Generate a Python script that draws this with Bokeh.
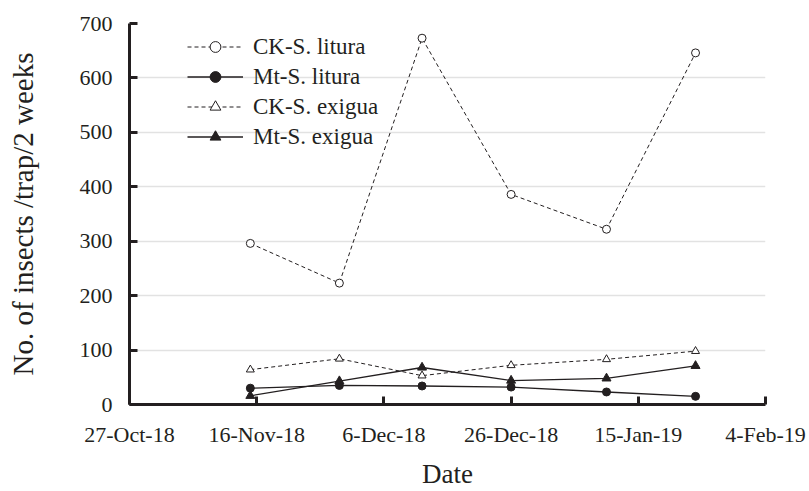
from datetime import datetime
from bokeh.plotting import figure
from bokeh.models import FixedTicker, Legend, LegendItem, Range1d
from bokeh.embed import file_html
from bokeh.resources import INLINE

# ---- data ----
dates = ["2018-11-15", "2018-11-29", "2018-12-12", "2018-12-26", "2019-01-10", "2019-01-24"]
ck_litura = [296, 223, 673, 386, 322, 646]
mt_litura = [30, 35, 34, 32, 23, 15]
ck_exigua = [64, 84, 53, 72, 83, 98]
mt_exigua = [16, 43, 68, 44, 48, 71]
tick_dates = ["2018-10-27", "2018-11-16", "2018-12-06", "2018-12-26", "2019-01-15", "2019-02-04"]
tick_labels = ["27-Oct-18", "16-Nov-18", "6-Dec-18", "26-Dec-18", "15-Jan-19", "4-Feb-19"]
y_ticks = [0, 100, 200, 300, 400, 500, 600, 700]

x = [datetime.strptime(d, "%Y-%m-%d") for d in dates]
tick_dt = [datetime.strptime(d, "%Y-%m-%d") for d in tick_dates]
epoch = datetime(1970, 1, 1)
tick_ms = [int((d - epoch).total_seconds() * 1000) for d in tick_dt]

FONT = "Liberation Serif"
TXT = "#231f20"

p = figure(width=809, height=491, x_axis_type="datetime", output_backend="svg",
           toolbar_location=None, min_border_left=129, min_border_right=44,
           min_border_top=23, min_border_bottom=86)
p.x_range = Range1d(tick_dt[0], tick_dt[-1])
p.y_range = Range1d(0, 700)
p.outline_line_color = None
p.background_fill_color = "white"

# lines + markers
r1l = p.line(x, ck_litura, line_color=TXT, line_width=1, line_dash="4 3")
r1m = p.scatter(x, ck_litura, marker="circle", size=8, fill_color="white", line_color=TXT, line_width=1)
r2l = p.line(x, mt_litura, line_color=TXT, line_width=1.3)
r2m = p.scatter(x, mt_litura, marker="circle", size=8, fill_color=TXT, line_color=TXT)
r3l = p.line(x, ck_exigua, line_color=TXT, line_width=1, line_dash="4 3")
r3m = p.scatter(x, ck_exigua, marker="triangle", size=8, fill_color="white", line_color=TXT, line_width=1)
r4l = p.line(x, mt_exigua, line_color=TXT, line_width=1.3)
r4m = p.scatter(x, mt_exigua, marker="triangle", size=9, fill_color=TXT, line_color=TXT)

# axes
p.xaxis.ticker = FixedTicker(ticks=tick_ms)
p.xaxis.major_label_overrides = {t: l for t, l in zip(tick_ms, tick_labels)}
p.yaxis.ticker = FixedTicker(ticks=y_ticks)
for ax in (p.xaxis[0], p.yaxis[0]):
    ax.axis_line_color = TXT
    ax.axis_line_width = 3
    ax.major_tick_line_color = TXT
    ax.major_tick_line_width = 3
    ax.major_tick_in = 8
    ax.major_tick_out = 0
    ax.minor_tick_line_color = None
    ax.major_label_text_font = FONT
    ax.major_label_text_font_size = "22px"
    ax.major_label_text_font_style = "normal"
    ax.major_label_text_color = TXT
    ax.axis_label_text_font = FONT
    ax.axis_label_text_font_style = "normal"
    ax.axis_label_text_color = TXT
p.xaxis.axis_label = "Date"
p.xaxis.axis_label_text_font_size = "27px"
p.xaxis.major_label_standoff = 17
p.xaxis.axis_label_standoff = 9
p.yaxis.axis_label = "No. of insects /trap/2 weeks"
p.yaxis.axis_label_text_font_size = "29px"
p.yaxis.major_label_standoff = 17
p.yaxis.axis_label_standoff = 38

p.xgrid.grid_line_color = None
p.ygrid.grid_line_color = "#e2e2e2"
p.ygrid.grid_line_width = 1.5

legend = Legend(items=[
    LegendItem(label="CK-S. litura", renderers=[r1l, r1m]),
    LegendItem(label="Mt-S. litura", renderers=[r2l, r2m]),
    LegendItem(label="CK-S. exigua", renderers=[r3l, r3m]),
    LegendItem(label="Mt-S. exigua", renderers=[r4l, r4m]),
], location=(58, 254))
legend.border_line_color = None
legend.background_fill_alpha = 0
legend.padding = 0
legend.margin = 0
legend.spacing = 3
legend.glyph_width = 56
legend.glyph_height = 27
legend.label_height = 27
legend.label_standoff = 10
legend.label_text_font = FONT
legend.label_text_font_style = "normal"
legend.label_text_font_size = "23px"
legend.label_text_color = TXT
p.add_layout(legend, "center")

open("out.html", "w").write(file_html(p, INLINE))
